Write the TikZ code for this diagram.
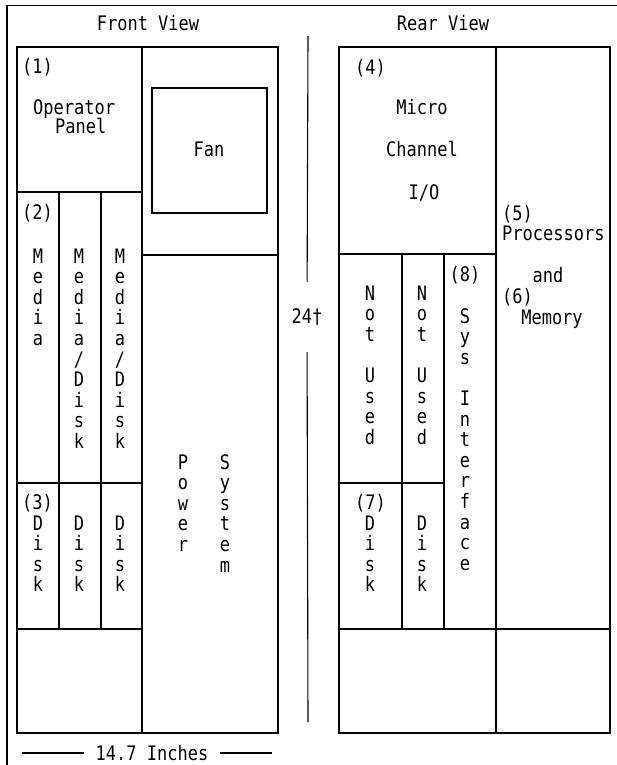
\documentclass[tikz,border=0pt]{standalone}
\usepackage{fontspec}
\usepackage{tikz}
\usetikzlibrary{positioning}
\newfontfamily\panelfont[FakeStretch=0.85]{DejaVu Sans Mono}
\tikzset{
  frame/.style={draw=black,line width=1.1pt},
  txt/.style={font=\panelfont\fontsize{20}{20.6}\selectfont,inner sep=0pt,anchor=base},
  txtw/.style={txt,anchor=base west},
  dimtxt/.style={font=\panelfont\fontsize{20}{20.6}\selectfont,inner xsep=12pt,inner ysep=0pt}
}
\begin{document}
\begin{tikzpicture}[x=1pt,y=-1pt]
\useasboundingbox (0,0) rectangle (617,765);

% outer frame
\draw[frame] (7,765) -- (7,5.5) -- (617,5.5);

% front view
\node[txt] (fronttitle) at (148,31) {Front View};
\draw[frame] (17,47) rectangle (278,733);
\draw[frame] (142,47) -- (142,733);
\draw[frame] (17,192) -- (142,192);
\draw[frame] (59,192) -- (59,629);
\draw[frame] (101,192) -- (101,629);
\draw[frame] (17,483) -- (142,483);
\draw[frame] (17,629) -- (142,629);
\draw[frame] (142,255) -- (278,255);
\draw[frame] (152,88) rectangle (267,213);

\node[txtw] (num1) at (22,74) {(1)};
\node[txtw] (oper) at (33,114) {Operator};
\node[txtw] (panel) at (55,134) {Panel};
\node[txt] (fan) at (209,157) {Fan};
\node[txtw] (num2) at (22,219) {(2)};
\node[txtw] (num3) at (22,509) {(3)};

\foreach \ch [count=\i from 0] in {M,e,d,i,a}
  \node[txt] (media-\i) at ({38},{263+20.6*\i}) {\ch};
\foreach \ch [count=\i from 0] in {M,e,d,i,a,/,D,i,s,k}
  \node[txt] (mediaa-\i) at ({79},{263+20.6*\i}) {\ch};
\foreach \ch [count=\i from 0] in {M,e,d,i,a,/,D,i,s,k}
  \node[txt] (mediab-\i) at ({120},{263+20.6*\i}) {\ch};
\foreach \ch [count=\i from 0] in {D,i,s,k} {
  \node[txt] (fdisk-\i) at ({38},{530+20.6*\i}) {\ch};
  \node[txt] (fdiska-\i) at ({79},{530+20.6*\i}) {\ch};
  \node[txt] (fdiskb-\i) at ({120},{530+20.6*\i}) {\ch};
}
\foreach \ch [count=\i from 0] in {P,o,w,e,r}
  \node[txt] (power-\i) at ({183},{469+20.6*\i}) {\ch};
\foreach \ch [count=\i from 0] in {S,y,s,t,e,m}
  \node[txt] (system-\i) at ({225},{469+20.6*\i}) {\ch};

% height
\node[dimtxt,minimum height=70pt] (height) at (307,317) {24†};
\coordinate (htop) at (308,36);
\coordinate (hbot) at (308,722);
\draw[frame] (htop) -- (height);
\draw[frame] (height) -- (hbot);

% width
\node[dimtxt] (width) at (152,753) {14.7 Inches};
\coordinate (wleft) at (22,753);
\coordinate (wright) at (272,753);
\draw[frame] (wleft) -- (width);
\draw[frame] (width) -- (wright);

% rear view
\node[txt] (reartitle) at (443,31) {Rear View};
\draw[frame] (339,47) rectangle (610,733);
\draw[frame] (496,47) -- (496,733);
\draw[frame] (339,254) -- (496,254);
\draw[frame] (402,254) -- (402,629);
\draw[frame] (444,254) -- (444,629);
\draw[frame] (339,483) -- (444,483);
\draw[frame] (339,629) -- (610,629);

\node[txtw] (num4) at (355,75) {(4)};
\node[txt] (micro) at (422,115) {Micro};
\node[txt] (channel) at (422,157) {Channel};
\node[txt] (io) at (424,199) {I/O};
\node[txtw] (num5) at (502,220) {(5)};
\node[txtw] (proc) at (502,240) {Processors};
\node[txt] (and) at (548,282) {and};
\node[txtw] (num6) at (502,303) {(6)};
\node[txt] (memory) at (552,324) {Memory};
\node[txt] (num8) at (465,281) {(8)};
\node[txtw] (num7) at (355,509) {(7)};

\foreach \ch/\k in {N/0,o/1,t/2,U/4,s/5,e/6,d/7} {
  \node[txt] (unused-\k) at ({370},{300+20.6*\k}) {\ch};
  \node[txt] (unuseda-\k) at ({422},{300+20.6*\k}) {\ch};
}
\foreach \ch/\k in {S/0,y/1,s/2,I/4,n/5,t/6,e/7,r/8,f/9,a/10,c/11,e/12}
  \node[txt] (sysif-\k) at ({465},{323+20.6*\k}) {\ch};
\foreach \ch [count=\i from 0] in {D,i,s,k} {
  \node[txt] (rdisk-\i) at ({370},{530+20.6*\i}) {\ch};
  \node[txt] (rdiska-\i) at ({422},{530+20.6*\i}) {\ch};
}

\end{tikzpicture}
\end{document}
